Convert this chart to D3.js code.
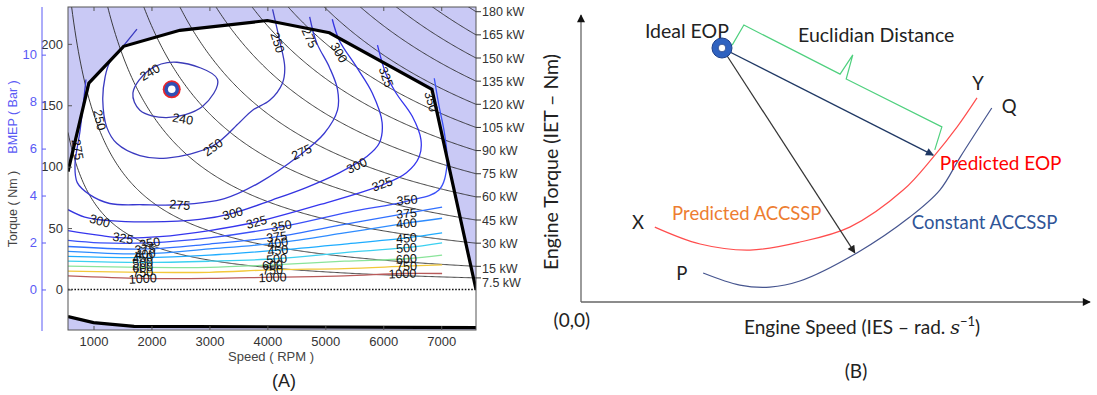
<!DOCTYPE html>
<html>
<head>
<meta charset="utf-8">
<script src="https://cdn.jsdelivr.net/npm/d3@7"></script>
<style>
  body { margin: 0; background: #fff; }
  svg { display: block; }
</style>
</head>
<body>
<div id="chart"></div>
<script>
// ---------- panel A data (speed in RPM, torque in Nm) ----------
const rpmTicks = [1000, 2000, 3000, 4000, 5000, 6000, 7000];
const torqueTicks = [0, 50, 100, 150, 200];
const bmepTicks = [0, 2, 4, 6, 8, 10];
const powerKW = [7.5, 15, 30, 45, 60, 75, 90, 105, 120, 135, 150, 165, 180];
const nmPerBar = 19.12;

const wotCurve = [[560, 96], [920, 168], [1520, 198], [2490, 211], [4000, 219], [5070, 209], [6840, 163], [7600, 0]];
const motoringCurve = [[560, -22], [1000, -27], [1700, -30], [7600, -31]];
const idealPoint = [2350, 163];

// BSFC iso-lines (g/kWh)
const bsfc240 = [[1680, 160], [1970, 179], [2440, 185], [3140, 171], [2880, 149], [2260, 140], [1800, 146]];
const bsfc250 = [[1750, 212], [1510, 198], [1280, 185], [1200, 173], [1160, 154], [1230, 132], [1400, 119], [1800, 109], [2265, 107], [3060, 117], [3520, 136], [3745, 146], [4040, 154], [4260, 168], [4300, 181], [4210, 203], [4090, 228]];
const bsfc275 = [[870, 171], [770, 130], [680, 101], [720, 87], [940, 77], [1280, 70], [1850, 69], [2490, 69], [3260, 74], [3865, 87], [4550, 109], [4980, 127], [5210, 146], [5210, 163], [5070, 181], [4850, 201], [4730, 222]];
const bsfc300 = [[560, 65], [850, 59], [1280, 56], [1970, 55], [2830, 57], [3400, 62], [4090, 73], [4670, 83], [5240, 95], [5710, 108], [5930, 119], [5980, 136], [5810, 160], [5540, 181], [5240, 203], [5120, 220]];
const bsfc325 = [[560, 48], [1110, 44], [1510, 42], [2140, 43], [3000, 48], [3810, 55], [4900, 69], [5980, 85], [6400, 95], [6620, 108], [6650, 122], [6500, 141], [6220, 160], [6050, 175], [5900, 199]];
const bsfc350 = [[560, 40], [1110, 38], [1970, 38], [3000, 42], [4240, 51], [5410, 63], [6410, 72], [6960, 81], [7100, 101], [7060, 126], [6960, 150], [6880, 172]];
const bsfc375 = [[560, 35], [1890, 33], [3000, 37], [4180, 43], [5330, 53], [6400, 62], [7015, 67]];
const bsfc400 = [[560, 31], [1890, 29], [3000, 33], [4180, 38], [5330, 46], [6400, 54], [7015, 58]];
const bsfc450 = [[560, 27], [1850, 26], [3000, 28], [4180, 32], [5330, 37], [6400, 42], [7015, 46]];
const bsfc500 = [[560, 23], [1850, 22], [3000, 23], [4160, 25], [5330, 30], [6400, 34], [7015, 38]];
const bsfc600 = [[560, 19], [1850, 18], [3000, 18], [4090, 20], [5330, 23], [6400, 25], [7015, 28]];
const bsfc750 = [[560, 15], [1850, 14], [3000, 14], [4090, 16], [5330, 17], [6400, 19], [7015, 20]];
const bsfc1000 = [[560, 11], [1850, 9], [3000, 9], [4090, 10], [5330, 11], [6330, 13], [7015, 13]];

const bsfcLines = [
  { level: 240, pts: bsfc240, color: '#3a3ab8', closed: true },
  { level: 250, pts: bsfc250, color: '#3a3ac0' },
  { level: 275, pts: bsfc275, color: '#3838d0' },
  { level: 300, pts: bsfc300, color: '#3434e0' },
  { level: 325, pts: bsfc325, color: '#3535ee' },
  { level: 350, pts: bsfc350, color: '#3a50f8' },
  { level: 375, pts: bsfc375, color: '#3070ff' },
  { level: 400, pts: bsfc400, color: '#2e8cff' },
  { level: 450, pts: bsfc450, color: '#1eacff' },
  { level: 500, pts: bsfc500, color: '#3cd0f0' },
  { level: 600, pts: bsfc600, color: '#8ae49a' },
  { level: 750, pts: bsfc750, color: '#f2c83a' },
  { level: 1000, pts: bsfc1000, color: '#b85a5a' }
];

// contour labels: [text, rpm, Nm, rotation]
const bsfcLabels = [
  ['240', 1970, 177, -30], ['240', 2540, 139, 10],
  ['250', 1110, 138, 78], ['250', 3060, 116, -35], ['250', 4180, 201, 72],
  ['275', 730, 114, 80], ['275', 2490, 69, 5], ['275', 4590, 112, -25], ['275', 4730, 205, 65],
  ['300', 1110, 56, 15], ['300', 3400, 62, -15], ['300', 5540, 101, -25], ['300', 5240, 193, 60],
  ['325', 1510, 42, 10], ['325', 3810, 55, -15], ['325', 5980, 86, -20], ['325', 6050, 173, 70],
  ['350', 1970, 38, -10], ['350', 4240, 52, -10], ['350', 6410, 73, -5], ['350', 6830, 153, 75],
  ['375', 1890, 33, -5], ['375', 4160, 43, -8], ['375', 6400, 62, -5],
  ['400', 1890, 29, -5], ['400', 4180, 38, -8], ['400', 6400, 54, -5],
  ['450', 1850, 26, -5], ['450', 4180, 32, -6], ['450', 6400, 42, -5],
  ['500', 1850, 22, -5], ['500', 4160, 25, -5], ['500', 6400, 34, -5],
  ['600', 1850, 18, -5], ['600', 4090, 20, -4], ['600', 6400, 25, -4],
  ['750', 1850, 14, -4], ['750', 4090, 16, -3], ['750', 6400, 19, -3],
  ['1000', 1850, 9, -3], ['1000', 4090, 10, -2], ['1000', 6330, 13, -2]
];

// ---------- panel B data (schematic units 0-100) ----------
const idealEop = [27.7, 88.5];
const predictedEop = [69.2, 51.2];
const constantHit = [53.8, 17.1];
const predictedAccssp = [[14.5, 26.1], [23.4, 20.2], [33.2, 18.1], [43.0, 20.9], [52.8, 26.1], [63.3, 39.0], [69.2, 50.5], [73.9, 61.0], [77.8, 71.1]];
const constantAccssp = [[24.0, 10.1], [31.2, 5.9], [37.1, 5.2], [43.0, 7.3], [54.2, 17.1], [64.6, 29.6], [70.5, 39.0], [74.5, 50.5], [80.7, 67.6]];
const distanceBrace = [[29.7, 89.5], [32.0, 96.5], [50.9, 79.4], [53.4, 86.1], [52.1, 77.7], [70.9, 61.0], [69.5, 53.0]];
const schematicLabels = [
  { text: 'Ideal EOP', x: 20.8, y: 94.4, color: '#222', anchor: 'middle', size: 19.5 },
  { text: 'Euclidian Distance', x: 58.0, y: 93.0, color: '#222', anchor: 'middle', size: 19.5 },
  { text: 'Y', x: 78.0, y: 76.3, color: '#222', anchor: 'middle', size: 18.5 },
  { text: 'Q', x: 84.1, y: 68.3, color: '#222', anchor: 'middle', size: 18.5 },
  { text: 'Predicted EOP', x: 70.5, y: 48.4, color: '#ff0000', anchor: 'start', size: 19 },
  { text: 'X', x: 11.2, y: 27.9, color: '#222', anchor: 'middle', size: 18.5 },
  { text: 'Predicted ACCSSP', x: 17.9, y: 31.0, color: '#ed7d31', anchor: 'start', size: 18.5 },
  { text: 'Constant ACCSSP', x: 65.0, y: 27.9, color: '#2f5597', anchor: 'start', size: 18.5 },
  { text: 'P', x: 19.8, y: 10.1, color: '#222', anchor: 'middle', size: 18.5 },
  { text: '(0,0)', x: -1.8, y: -6.3, color: '#222', anchor: 'middle', size: 19 }
];

const svg = d3.select('#chart').append('svg')
  .attr('width', 1097)
  .attr('height', 395);

const defs = svg.append('defs');

// ================= PANEL A =================
const xA = d3.scaleLinear().domain([560, 7600]).range([68, 476]);
const yA = d3.scaleLinear().domain([-33, 230]).range([330, 7]);
const yBmep = d3.scaleLinear().domain(yA.domain().map(v => v / nmPerBar)).range([330, 7]);

defs.append('clipPath').attr('id', 'clipA')
  .append('rect')
  .attr('x', 68).attr('y', 7)
  .attr('width', 408).attr('height', 323);

const gA = svg.append('g').style('font-family', '"Liberation Sans", Arial, sans-serif');
const plot = gA.append('g').attr('clip-path', 'url(#clipA)');

// shaded areas outside the operating envelope
plot.append('path')
  .datum(wotCurve)
  .attr('d', d3.area().x(d => xA(d[0])).y0(yA(230)).y1(d => yA(d[1])))
  .style('fill', '#c9c9f5');

plot.append('path')
  .datum(motoringCurve)
  .attr('d', d3.area().x(d => xA(d[0])).y0(yA(-33)).y1(d => yA(d[1])))
  .style('fill', '#c9c9f5');

// constant power lines: torque = P / omega
const rpmSamples = d3.range(560, 7601, 20);
const powerLine = d3.line().x(d => xA(d[0])).y(d => yA(d[1]));
plot.append('g')
  .selectAll('path')
  .data(powerKW)
  .enter()
  .append('path')
  .attr('d', kw => powerLine(rpmSamples.map(r => [r, kw * 1000 / (r * Math.PI / 30)])))
  .style('fill', 'none')
  .style('stroke', '#2a2a2a')
  .style('stroke-width', 0.9);

// BSFC contours
const contourLine = d3.line().x(d => xA(d[0])).y(d => yA(d[1])).curve(d3.curveCatmullRom.alpha(0.5));
const closedLine = d3.line().x(d => xA(d[0])).y(d => yA(d[1])).curve(d3.curveCatmullRomClosed.alpha(0.5));
plot.append('g')
  .selectAll('path')
  .data(bsfcLines)
  .enter()
  .append('path')
  .attr('d', d => d.closed ? closedLine(d.pts) : contourLine(d.pts))
  .style('fill', 'none')
  .style('stroke', d => d.color)
  .style('stroke-width', 1.3);

// zero torque line
plot.append('path')
  .datum(xA.domain().map(r => [r, 0]))
  .attr('d', powerLine)
  .style('stroke', '#111')
  .style('stroke-width', 1.6)
  .style('stroke-dasharray', '1.6,1.6');

// full load and motoring curves
plot.selectAll('.envelope')
  .data([wotCurve, motoringCurve])
  .enter()
  .append('path')
  .attr('d', powerLine)
  .style('fill', 'none')
  .style('stroke', '#000')
  .style('stroke-width', 3.2);

// contour labels
plot.append('g')
  .selectAll('text')
  .data(bsfcLabels)
  .enter()
  .append('text')
  .attr('transform', d => 'translate(' + xA(d[1]) + ',' + yA(d[2]) + ')rotate(' + d[3] + ')')
  .attr('text-anchor', 'middle')
  .attr('dy', '0.36em')
  .style('font-size', '12.5px')
  .style('fill', '#111')
  .text(d => d[0]);

// ideal operating point
const ip = plot.append('g').attr('transform', 'translate(' + xA(idealPoint[0]) + ',' + yA(idealPoint[1]) + ')');
ip.append('circle').attr('r', 9).style('fill', '#e8262b');
ip.append('circle').attr('r', 7.3).style('fill', '#2e4fb5');
ip.append('circle').attr('r', 3.8).style('fill', '#fff');

// box
gA.append('rect')
  .attr('x', 68).attr('y', 7)
  .attr('width', 408).attr('height', 323)
  .style('fill', 'none')
  .style('stroke', '#555')
  .style('stroke-width', 1);

// axes
const axisB = gA.append('g')
  .attr('transform', 'translate(0,330)')
  .call(d3.axisBottom(xA).tickValues(rpmTicks).tickFormat(d3.format('d')).tickSize(-4).tickPadding(7));
const axisT = gA.append('g')
  .attr('transform', 'translate(0,7)')
  .call(d3.axisTop(xA).tickValues(rpmTicks).tickSize(-4).tickFormat(''));
const axisL = gA.append('g')
  .attr('transform', 'translate(68,0)')
  .call(d3.axisLeft(yA).tickValues(torqueTicks).tickSize(-4).tickPadding(5));
[axisB, axisT, axisL].forEach(a => {
  a.select('.domain').remove();
  a.selectAll('line').style('stroke', '#555');
  a.selectAll('text').style('font-size', '13px').style('fill', '#333').style('font-family', '"Liberation Sans", Arial, sans-serif');
});

const axisBmep = gA.append('g')
  .attr('transform', 'translate(42,0)')
  .call(d3.axisLeft(yBmep).tickValues(bmepTicks).tickSize(-4).tickSizeOuter(0).tickPadding(5));
axisBmep.select('.domain').style('stroke', '#5a5af5').attr('d', 'M0,331V7');
axisBmep.selectAll('line').style('stroke', '#5a5af5');
axisBmep.selectAll('text').style('font-size', '13px').style('fill', '#5a5af5').style('font-family', '"Liberation Sans", Arial, sans-serif');

// power labels on the right edge
const rightPower = gA.append('g')
  .selectAll('g')
  .data(powerKW)
  .enter()
  .append('g')
  .attr('transform', kw => 'translate(476,' + yA(kw * 1000 / (xA.domain()[1] * Math.PI / 30)) + ')');
rightPower.append('line').attr('x2', 5).style('stroke', '#333');
rightPower.append('text')
  .attr('x', 6)
  .attr('dy', kw => kw === 7.5 ? '0.75em' : (kw === 15 ? '0.5em' : '0.36em'))
  .style('font-size', '12.5px')
  .style('fill', '#333')
  .text(kw => kw + ' kW');

// titles
gA.append('text')
  .attr('transform', 'translate(17,117)rotate(-90)')
  .attr('text-anchor', 'middle')
  .style('font-size', '12.5px')
  .style('fill', '#5a5af5')
  .text('BMEP ( Bar )');
gA.append('text')
  .attr('transform', 'translate(17,209)rotate(-90)')
  .attr('text-anchor', 'middle')
  .style('font-size', '12.5px')
  .style('fill', '#444')
  .text('Torque ( Nm )');
gA.append('text')
  .attr('x', 271).attr('y', 361)
  .attr('text-anchor', 'middle')
  .style('font-size', '13px')
  .style('fill', '#444')
  .text('Speed ( RPM )');
gA.append('text')
  .attr('x', 284).attr('y', 387)
  .attr('text-anchor', 'middle')
  .style('font-size', '18px')
  .style('fill', '#222')
  .text('(A)');

// ================= PANEL B =================
const xB = d3.scaleLinear().domain([0, 100]).range([581, 1090]);
const yB = d3.scaleLinear().domain([0, 100]).range([302, 15]);

function addArrow(id, color, w, h) {
  defs.append('marker')
    .attr('id', id)
    .attr('viewBox', '0 0 10 10')
    .attr('refX', 9).attr('refY', 5)
    .attr('markerUnits', 'userSpaceOnUse')
    .attr('markerWidth', w).attr('markerHeight', h)
    .attr('orient', 'auto')
    .append('path')
    .attr('d', 'M0,0L10,5L0,10Z')
    .style('fill', color);
}
addArrow('arrAxis', '#111', 10, 8);
addArrow('arrNavy', '#1f3864', 10, 8);
addArrow('arrBlack', '#222', 10, 8);

const gB = svg.append('g').style('font-family', 'Lato, "Open Sans", sans-serif');
const lineB = d3.line().x(d => xB(d[0])).y(d => yB(d[1]));
const curveB = d3.line().x(d => xB(d[0])).y(d => yB(d[1])).curve(d3.curveCatmullRom.alpha(0.5));

// axes with arrows
gB.append('path')
  .datum([[0, 0], [0, 100]])
  .attr('d', lineB)
  .attr('marker-end', 'url(#arrAxis)')
  .style('stroke', '#666').style('stroke-width', 1.3);
gB.append('path')
  .datum([[0, 0], [100, 0]])
  .attr('d', lineB)
  .attr('marker-end', 'url(#arrAxis)')
  .style('stroke', '#666').style('stroke-width', 1.3);

// operating lines
gB.append('path')
  .datum(predictedAccssp)
  .attr('d', curveB)
  .style('fill', 'none').style('stroke', '#ff4d4d').style('stroke-width', 1.2);
gB.append('path')
  .datum(constantAccssp)
  .attr('d', curveB)
  .style('fill', 'none').style('stroke', '#46558f').style('stroke-width', 1.2);

// euclidian distance brace
gB.append('path')
  .datum(distanceBrace)
  .attr('d', lineB)
  .style('fill', 'none').style('stroke', '#4fd07e').style('stroke-width', 1.2);

// arrows from the ideal point
gB.append('path')
  .datum([idealEop, predictedEop])
  .attr('d', lineB)
  .attr('marker-end', 'url(#arrNavy)')
  .style('stroke', '#1f3864').style('stroke-width', 1.3);
gB.append('path')
  .datum([idealEop, constantHit])
  .attr('d', lineB)
  .attr('marker-end', 'url(#arrBlack)')
  .style('stroke', '#333').style('stroke-width', 1.2);

// ideal EOP marker
const ie = gB.append('g').attr('transform', 'translate(' + xB(idealEop[0]) + ',' + yB(idealEop[1]) + ')');
ie.append('circle').attr('r', 10).style('fill', '#2f62c0').style('stroke', '#1d3f8a').style('stroke-width', 1);
ie.append('circle').attr('r', 3.8).style('fill', '#fff').style('stroke', '#1d3f8a').style('stroke-width', 0.8);

// texts
gB.append('g')
  .selectAll('text')
  .data(schematicLabels)
  .enter()
  .append('text')
  .attr('x', d => xB(d.x))
  .attr('y', d => yB(d.y))
  .attr('dy', '0.36em')
  .attr('text-anchor', d => d.anchor)
  .style('font-size', d => d.size + 'px')
  .style('fill', d => d.color)
  .text(d => d.text);

const xTitle = gB.append('text')
  .attr('x', 862).attr('y', 334)
  .attr('text-anchor', 'middle')
  .style('font-size', '19px')
  .style('fill', '#222');
xTitle.append('tspan').text('Engine Speed (IES \u2013 rad. ');
xTitle.append('tspan').style('font-family', '"DejaVu Serif", serif').style('font-style', 'italic').text('s');
xTitle.append('tspan').attr('dy', -8).style('font-size', '13px').text('\u22121');
xTitle.append('tspan').attr('dy', 8).text(')');

gB.append('text')
  .attr('transform', 'translate(558,162)rotate(-90)')
  .attr('text-anchor', 'middle')
  .style('font-size', '19.5px')
  .style('fill', '#222')
  .text('Engine Torque (IET \u2013 Nm)');

gB.append('text')
  .attr('x', 856).attr('y', 378)
  .attr('text-anchor', 'middle')
  .style('font-size', '19px')
  .style('fill', '#222')
  .text('(B)');
</script>
</body>
</html>
